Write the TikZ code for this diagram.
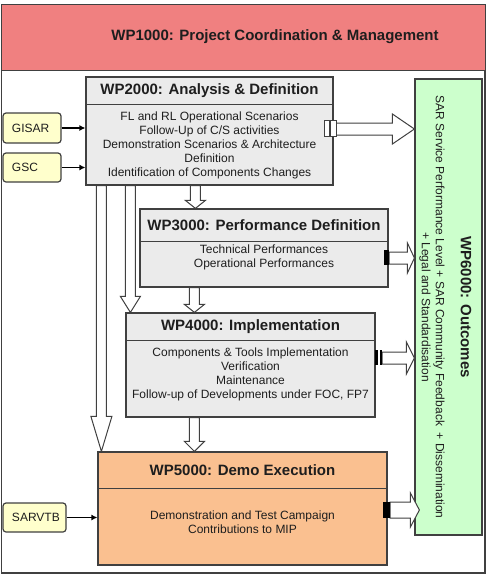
\documentclass[tikz,border=0pt]{standalone}
\usepackage{fontspec}
\setmainfont{Liberation Sans}
\usetikzlibrary{calc,arrows.meta}
\definecolor{bord}{RGB}{64,64,64}
\definecolor{bannerred}{RGB}{240,128,128}
\definecolor{boxgray}{RGB}{235,235,235}
\definecolor{lyellow}{RGB}{255,255,204}
\definecolor{lorange}{RGB}{250,192,144}
\definecolor{lgreen}{RGB}{204,255,204}
\definecolor{txt}{RGB}{30,30,30}
\begin{document}
\begin{tikzpicture}[x=1pt,y=-1pt,
  wpbox/.style={draw=bord, line width=1.2pt, fill=boxgray, inner sep=0pt},
  inbox/.style={draw=bord, line width=1.2pt, fill=lyellow, rounded corners=3pt, inner xsep=9pt, inner ysep=0pt, align=left, font=\fontsize{12}{14}\selectfont, text=txt},
  wptitle/.style={font=\fontsize{15}{17}\selectfont\bfseries, text=txt, inner sep=0pt},
  wpbody/.style={font=\fontsize{12}{14}\selectfont, text=txt, align=center, inner sep=0pt},
  divider/.style={draw=bord, line width=1.2pt},
  smallarr/.style={line width=1.3pt, -{Latex[length=6pt,width=6pt]}},
  blk/.style={draw=bord, line width=1pt, fill=white},
  hblock/.style n args={3}{blk, to path={let \p1=(\tikztostart), \p2=(\tikztotarget) in
    (\x1,\y1+#1) -- (\x2-#3,\y1+#1) -- (\x2-#3,\y1+#2) -- (\x2,\y1) -- (\x2-#3,\y1-#2) -- (\x2-#3,\y1-#1) -- (\x1,\y1-#1) -- cycle}},
  vblock/.style n args={3}{blk, to path={let \p1=(\tikztostart), \p2=(\tikztotarget) in
    (\x1-#1,\y1) -- (\x1-#1,\y2+#3) -- (\x1-#2,\y2+#3) -- (\x1,\y2) -- (\x1+#2,\y2+#3) -- (\x1+#1,\y2+#3) -- (\x1+#1,\y1) -- cycle}}
]
\useasboundingbox (0,0) rectangle (500,581);

% banner and frame
\node[draw=bord, line width=1pt, fill=bannerred, minimum width=484pt, minimum height=66pt, inner sep=0pt] (wp1) at (243,37) {};
\node[wptitle] (wp1t) at (275,37) {WP1000: Project Coordination \& Management};
\draw[draw=bord, line width=1.2pt] (wp1.south west) ++(1,0) rectangle (485,573);

% WP boxes
\node[wpbox, minimum width=247pt, minimum height=108pt] (wp2) at (209.5,131) {};
\draw[divider] ($(wp2.north west)+(0,28)$) -- ($(wp2.north east)+(0,28)$);
\node[wptitle] (wp2t) at (209.5,91) {WP2000: Analysis \& Definition};
\node[wpbody] (wp2b) at (209.5,145) {FL and RL Operational Scenarios\\Follow-Up of C/S activities\\Demonstration Scenarios \& Architecture\\Definition\\Identification of Components Changes};

\node[wpbox, minimum width=248pt, minimum height=78pt] (wp3) at (264,248) {};
\draw[divider] ($(wp3.north west)+(0,33)$) -- ($(wp3.north east)+(0,33)$);
\node[wptitle] (wp3t) at (264,225.5) {WP3000: Performance Definition};
\node[wpbody] (wp3b) at (264,257) {Technical Performances\\Operational Performances};

\node[wpbox, minimum width=249pt, minimum height=104pt] (wp4) at (250.5,365) {};
\draw[divider] ($(wp4.north west)+(0,28)$) -- ($(wp4.north east)+(0,28)$);
\node[wptitle] (wp4t) at (250.5,327) {WP4000: Implementation};
\node[wpbody] (wp4b) at (250.5,374) {Components \& Tools Implementation\\Verification\\Maintenance\\Follow-up of Developments under FOC, FP7};

\node[wpbox, fill=lorange, minimum width=289pt, minimum height=113pt] (wp5) at (242.5,508.5) {};
\draw[divider] ($(wp5.north west)+(0,37)$) -- ($(wp5.north east)+(0,37)$);
\node[wptitle] (wp5t) at (242.5,470.5) {WP5000: Demo Execution};
\node[wpbody] (wp5b) at (242.5,522) {Demonstration and Test Campaign\\Contributions to MIP};

\node[wpbox, fill=lgreen, minimum width=67pt, minimum height=456pt] (wp6) at (448.5,307) {};
\node[wptitle, rotate=-90] (wp6t) at (466,307) {WP6000: Outcomes};
\node[wpbody, rotate=-90] (wp6b) at (432,307) {SAR Service Performance Level + SAR Community Feedback \ + Dissemination\\+ Legal and Standardisation};

% inputs
\node[inbox, text width=40pt, minimum height=30pt] (gisar) at (32,128) {GISAR};
\node[inbox, text width=40pt, minimum height=29pt] (gsc) at (32,167.5) {GSC};
\node[inbox, text width=45pt, minimum height=29pt] (sarvtb) at (34.5,517.5) {SARVTB};
\draw[smallarr] (gisar) -- (gisar -| wp2.west);
\draw[smallarr] (gsc.east) -- (gsc.east -| wp2.west);
\draw[smallarr] (sarvtb) -- (sarvtb -| wp5.west);

% vertical block arrows
\coordinate (va) at ([xshift=16]wp2.south west);
\coordinate (vb) at ([xshift=45]wp2.south west);
\coordinate (vc) at ([xshift=110]wp2.south west);
\coordinate (vd) at ([xshift=55]wp3.south west);
\coordinate (ve) at ([xshift=69]wp4.south west);
\draw[vblock={5pt}{10.5pt}{35pt}] (va) to (va |- wp5.north);
\draw[vblock={5pt}{10pt}{16pt}] (vb) to (vb |- wp4.north);
\draw[vblock={5pt}{10pt}{8pt}] (vc) to (vc |- wp3.north);
\draw[vblock={5pt}{10pt}{8pt}] (vd) to (vd |- wp4.north);
\draw[vblock={5pt}{10pt}{10pt}] (ve) to (ve |- wp5.north);

% horizontal block arrows to outcomes
\coordinate (a2s) at (336,129);
\coordinate (a3s) at (389,258);
\coordinate (a4s) at (382,358);
\coordinate (a5s) at (390,510);
\draw[hblock={6pt}{15pt}{22pt}] (a2s) to (a2s -| wp6.west);
\draw[hblock={6pt}{15pt}{7pt}] (a3s) to (a3s -| wp6.west);
\draw[hblock={6pt}{16pt}{8pt}] (a4s) to (a4s -| wp6.west);
\draw[hblock={8pt}{17pt}{9pt}] (a5s) to ([xshift=5]a5s -| wp6.west);

% tail markers
\draw[blk] (324,120) rectangle (329.5,136);
\draw[blk] (330.5,120) rectangle (336,136);
\fill[black] (384,250) rectangle (389,265);
\fill[black] (375,350) rectangle (377.5,365);
\fill[black] (379.5,350) rectangle (382,365);
\fill[black] (383,502) rectangle (390,518);
\end{tikzpicture}
\end{document}
